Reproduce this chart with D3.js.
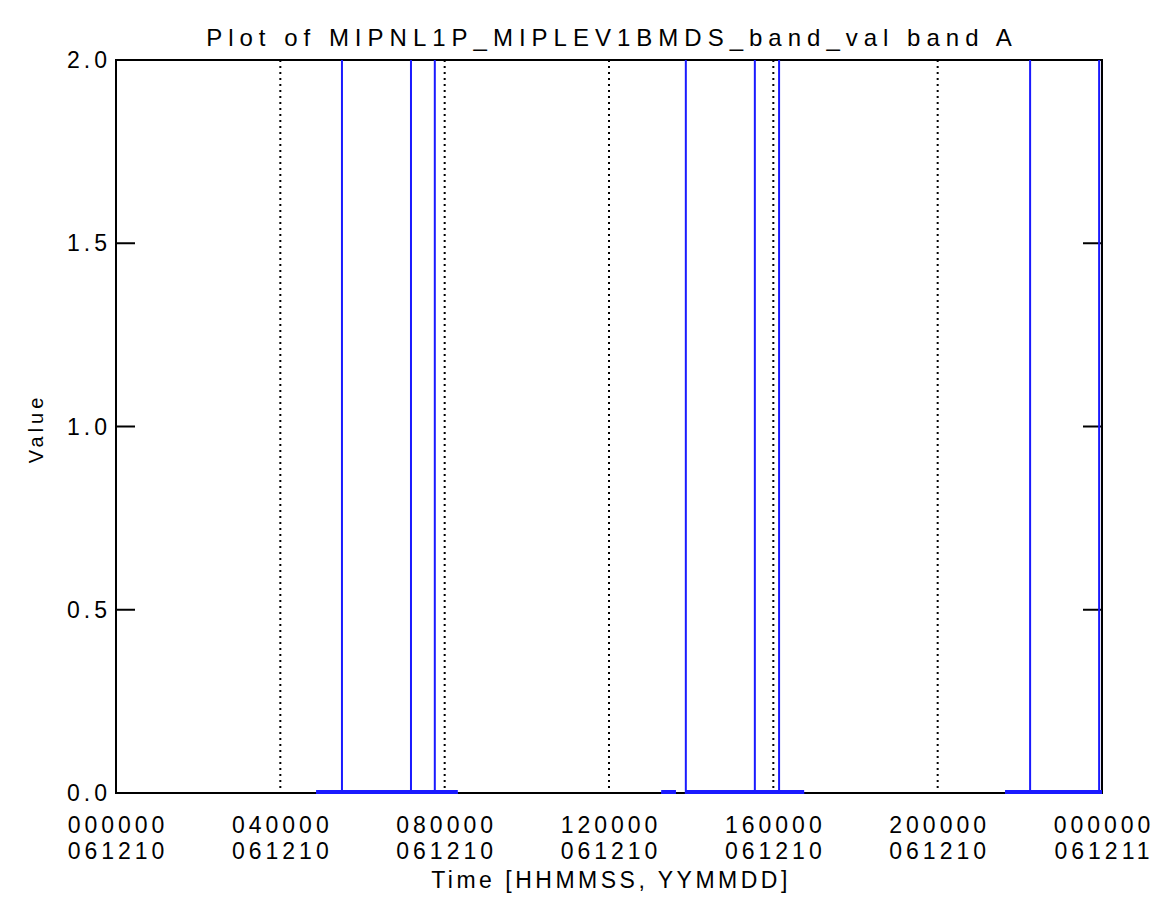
<!DOCTYPE html>
<html><head><meta charset="utf-8">
<script src="https://cdn.jsdelivr.net/npm/d3@7"></script>
<style>
body{margin:0;background:#fff;}
text{font-family:"Liberation Sans",Arial,sans-serif;fill:#000;}
</style></head>
<body><svg id="c" width="1160" height="907"></svg>
<script>
// ---- data (time in hours of 2006-12-10) ----
const segmentStart = [4.87, 13.27, 13.85, 21.64];
const segmentEnd   = [8.32, 13.63, 16.75, 24.00];
const spikeTimes   = [5.50, 7.18, 7.76, 13.87, 15.55, 16.14, 22.25, 23.93];
const spikeValues  = [2.0, 2.0, 2.0, 2.0, 2.0, 2.0, 2.0, 2.0];
const xTickHours   = [0, 4, 8, 12, 16, 20, 24];
const xTickTime    = ["000000","040000","080000","120000","160000","200000","000000"];
const xTickDate    = ["061210","061210","061210","061210","061210","061210","061211"];
const yTicks       = [0.0, 0.5, 1.0, 1.5, 2.0];
const titleText = "Plot of MIPNL1P_MIPLEV1BMDS_band_val band A";
const xLabel = "Time [HHMMSS, YYMMDD]";
const yLabel = "Value";

const svg = d3.select("#c");
const M = {l:116, r:1102, t:60, b:793};
const x = d3.scaleLinear().domain([0,24]).range([M.l, M.r]);
const y = d3.scaleLinear().domain([0,2]).range([M.b, M.t]);
const blue = "#1a1aff";
const fs = 23, ls = 4;

// build series
const pts = [];
segmentStart.forEach((s,i)=>{
  const e = segmentEnd[i];
  pts.push([s,0]);
  spikeTimes.forEach((t,j)=>{ if(t>=s && t<=e){ pts.push([t,0],[t,spikeValues[j]],[t,0]); }});
  pts.push([e,0]);
  pts.push([NaN,NaN]);
});

// dotted grid at ticks (interior)
svg.append("g").selectAll("line").data(xTickHours.slice(1,-1)).join("line")
  .attr("x1",d=>x(d)).attr("x2",d=>x(d)).attr("y1",M.t).attr("y2",M.b)
  .attr("stroke","#000").attr("stroke-width",2).attr("stroke-dasharray","2,4");

// frame
svg.append("rect").attr("x",M.l).attr("y",M.t).attr("width",M.r-M.l).attr("height",M.b-M.t)
  .attr("fill","none").attr("stroke","#000").attr("stroke-width",2);

// y ticks left and right
const yt = svg.append("g");
yt.selectAll("line.l").data(yTicks).join("line").attr("class","l")
  .attr("x1",M.l).attr("x2",M.l+19).attr("y1",d=>y(d)).attr("y2",d=>y(d)).attr("stroke","#000").attr("stroke-width",2);
yt.selectAll("line.r").data(yTicks).join("line").attr("class","r")
  .attr("x1",M.r-19).attr("x2",M.r).attr("y1",d=>y(d)).attr("y2",d=>y(d)).attr("stroke","#000").attr("stroke-width",2);
yt.selectAll("text").data(yTicks).join("text")
  .attr("x",M.l-9+ls).attr("y",d=>y(d)+8).attr("text-anchor","end")
  .attr("font-size",fs).attr("letter-spacing",ls+"px").text(d=>d3.format(".1f")(d));

// x tick labels
const xt = svg.append("g");
xt.selectAll("text.t").data(xTickHours).join("text").attr("class","t")
  .attr("x",d=>x(d)+ls/2).attr("y",833).attr("text-anchor","middle")
  .attr("font-size",fs).attr("letter-spacing",ls+"px").text((d,i)=>xTickTime[i]);
xt.selectAll("text.d").data(xTickHours).join("text").attr("class","d")
  .attr("x",d=>x(d)+ls/2).attr("y",859).attr("text-anchor","middle")
  .attr("font-size",fs).attr("letter-spacing",ls+"px").text((d,i)=>xTickDate[i]);

// data
svg.append("clipPath").attr("id","pc").append("rect")
  .attr("x",M.l-2).attr("y",M.t-1).attr("width",M.r-M.l+4).attr("height",M.b-M.t+4);
const line = d3.line().defined(d=>!isNaN(d[0])).x(d=>x(d[0])).y(d=>y(d[1]));
svg.append("g").attr("clip-path","url(#pc)").selectAll("line").data(segmentStart).join("line")
  .attr("x1",d=>x(d)).attr("x2",(d,i)=>x(segmentEnd[i])).attr("y1",y(0)-1).attr("y2",y(0)-1)
  .attr("stroke",blue).attr("stroke-width",4);
svg.append("path").attr("clip-path","url(#pc)").datum(pts).attr("d",line)
  .attr("fill","none").attr("stroke",blue).attr("stroke-width",2);

// titles
svg.append("text").attr("x",(M.l+M.r)/2+3).attr("y",46).attr("text-anchor","middle")
  .attr("font-size",24).attr("letter-spacing","6px").text(titleText);
svg.append("text").attr("x",(M.l+M.r)/2+2).attr("y",888).attr("text-anchor","middle")
  .attr("font-size",fs).attr("letter-spacing","3.5px").text(xLabel);
svg.append("text").attr("transform",`translate(43,${(M.t+M.b)/2+2}) rotate(-90)`).attr("text-anchor","middle")
  .attr("font-size",20).attr("letter-spacing","4px").text(yLabel);
</script></body></html>
